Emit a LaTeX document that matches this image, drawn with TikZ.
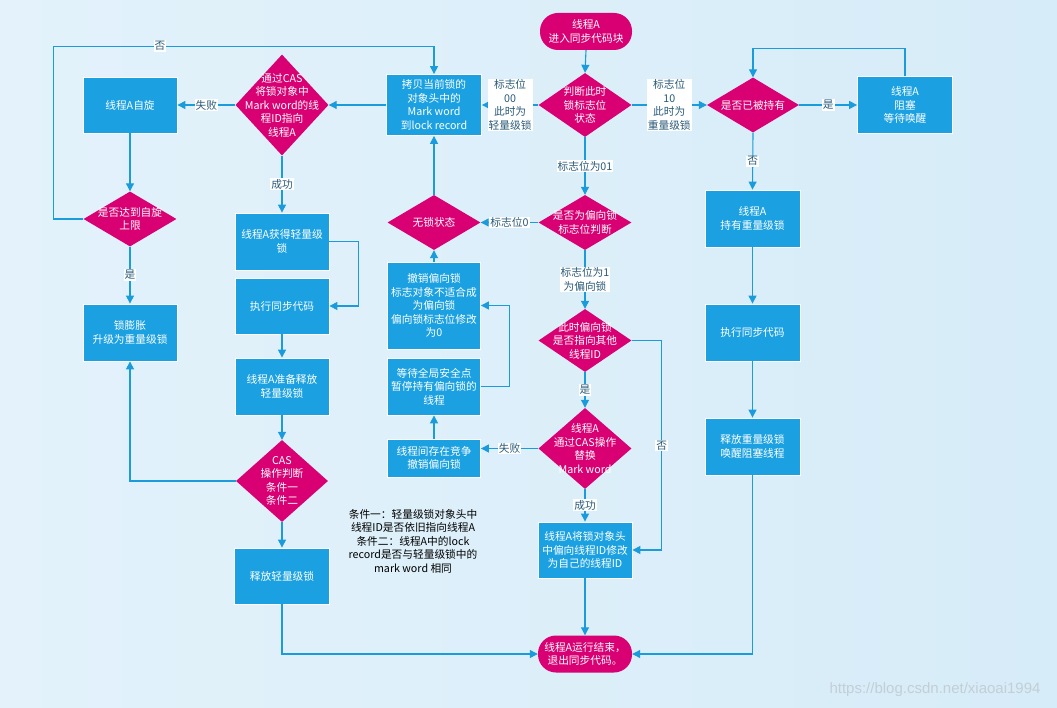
\documentclass[tikz,border=0pt]{standalone}
\usepackage{fontspec}
\setmainfont{Noto Sans CJK SC}
\newfontfamily\wmfont{Liberation Sans}
\usepackage{xcolor}
\definecolor{boxblue}{HTML}{1BA1E2}
\definecolor{decmag}{HTML}{D80073}
\definecolor{linkblue}{HTML}{1A9BDB}
\definecolor{lbltext}{HTML}{2A5A78}
\definecolor{bgleft}{HTML}{E3F2FB}
\definecolor{bgright}{HTML}{D6ECF8}
\definecolor{wmgray}{HTML}{C3CFD6}
\usepackage{tikz}
\usetikzlibrary{arrows.meta}
\usetikzlibrary{shapes.geometric}
\usetikzlibrary{calc}
\tikzset{
    box/.style={draw=white, line width=0.8pt, fill=boxblue, text=white, align=center,
      minimum width=94, minimum height=57, inner sep=1pt},
    decision/.style 2 args={diamond, fill=decmag, minimum width=#1, minimum height=#2, inner sep=0pt},
    dtext/.style={text=white, align=center},
    term/.style={rounded corners=18, fill=decmag, text=white, align=center,
      minimum width=94, minimum height=37, inner sep=1pt},
    lbl/.style={fill=white, text=lbltext, align=center, inner sep=1pt},
    flow/.style={draw=linkblue, line width=1.1pt, -{Triangle[length=8pt, width=8pt]}}
}

\begin{document}
\begin{tikzpicture}[x=1pt, y=-1pt, font=\fontsize{10.7}{13.5}\selectfont]

    \fill [left color=bgleft, right color=bgright] (0, 0) rectangle (1057, 708);
    \useasboundingbox (0, 0) rectangle (1057, 708);

    \node (start) [term, minimum width=92] at (586, 31.5) {线程A\\进入同步代码块};
    \node (state) [decision={93}{64}, label={[dtext]center:判断此时\\锁标志位\\状态}] at (585, 105) {};
    \node (copy) [box, minimum width=95, minimum height=61] at (434, 105) {拷贝当前锁的\\对象头中的\\Mark word\\到lock record};
    \node (held) [decision={92}{55}, label={[dtext]center:是否已被持有}] at (753, 105) {};
    \node (block) [box, minimum width=95] at (905, 105) {线程A\\阻塞\\等待唤醒};
    \node (heavy) [box, minimum width=95] at (752.5, 218.5) {线程A\\持有重量级锁};
    \node (hexec) [box, minimum width=95] at (752.5, 332.5) {执行同步代码};
    \node (hrel) [box, minimum width=95] at (752.5, 446.5) {释放重量级锁\\唤醒阻塞线程};
    \node (end) [term] at (585, 654) {线程A运行结束，\\退出同步代码。};

    \node (biased) [decision={93}{55}, label={[dtext]center:是否为偏向锁\\标志位判断}] at (585, 222.5) {};
    \node (nolock) [decision={93}{55}, label={[dtext]center:无锁状态}] at (434, 222.5) {};
    \node (other) [decision={93}{63}, label={[dtext]center:此时偏向锁\\是否指向其他\\线程ID}] at (585, 340.5) {};
    \node (bcas) [decision={93}{81}, label={[dtext]center:线程A\\通过CAS操作\\替换\\Mark word}] at (585, 448.5) {};
    \node (setid) [box, minimum height=56] at (585, 550) {线程A将锁对象头\\中偏向线程ID修改\\为自己的线程ID};
    \node (compete) [box, minimum width=93, minimum height=38] at (434, 458) {线程间存在竞争\\撤销偏向锁};
    \node (safept) [box, minimum width=93] at (434, 386.5) {等待全局安全点\\暂停持有偏向锁的\\线程};
    \node (revoke) [box, minimum width=93, minimum height=87] at (434, 305.5) {撤销偏向锁\\标志对象不适合成\\为偏向锁\\偏向锁标志位修改\\为0};

    \node (lcas) [decision={93}{101}, label={[dtext]center:通过CAS\\将锁对象中\\Mark word的线\\程ID指向\\线程A}] at (282, 105) {};
    \node (spin) [box, minimum height=56] at (130, 105) {线程A自旋};
    \node (limit) [decision={93}{55}, label={[dtext]center:是否达到自旋\\上限}] at (130, 219) {};
    \node (inflate) [box] at (130, 332.5) {锁膨胀\\升级为重量级锁};
    \node (light) [box] at (282, 241.5) {线程A获得轻量级\\锁};
    \node (lexec) [box, minimum height=56] at (282, 306) {执行同步代码};
    \node (lprep) [box] at (282, 386.5) {线程A准备释放\\轻量级锁};
    \node (lcheck) [decision={92}{82}, label={[dtext]center:CAS\\操作判断\\条件一\\条件二}] at (282, 481) {};
    \node (lrel) [box, minimum width=95, minimum height=56] at (282, 576) {释放轻量级锁};

    \node (note) [align=center, text=black] at (413, 541) {条件一：轻量级锁对象头中\\线程ID是否依旧指向线程A\\条件二：线程A中的lock\\record是否与轻量级锁中的\\mark word 相同};
    \node (mark) [font=\wmfont\fontsize{15}{17}\selectfont, text=wmgray] at (935, 690) {https://blog.csdn.net/xiaoai1994};

    \draw [flow] (start.south) -- (state.north);
    \draw [flow] (state.west) -- node [lbl] {标志位\\00\\此时为\\轻量级锁} (copy.east);
    \draw [flow] (state.east) -- node [lbl] {标志位\\10\\此时为\\重量级锁} (held.west);
    \draw [flow] (held.east) -- node [lbl] {是} (block.west);
    \draw [flow] (block.north) -- ++(0, -28) -| (held.north);
    \draw [flow] (held.south) -- node [lbl] {否} (heavy.north);
    \draw [flow] (heavy.south) -- (hexec.north);
    \draw [flow] (hexec.south) -- (hrel.north);
    \draw [flow] (hrel.south) |- (end.east);

    \draw [flow] (state.south) -- node [lbl] {标志位为01} (biased.north);
    \draw [flow] (biased.west) -- node [lbl] {标志位0} (nolock.east);
    \draw [flow] (nolock.north) -- (copy.south);
    \draw [flow] (biased.south) -- node [lbl] {标志位为1\\为偏向锁} (other.north);
    \draw [flow] (other.east) -- ++(30, 0) |- node [lbl, pos=0.25] {否} (setid.east);
    \draw [flow] (other.south) -- node [lbl] {是} (bcas.north);
    \draw [flow] (bcas.south) -- node [lbl] {成功} (setid.north);
    \draw [flow] (setid.south) -- (end.north);
    \draw [flow] (bcas.west) -- node [lbl] {失败} (bcas.west -| compete.east);
    \draw [flow] (compete.north) -- (safept.south);
    \draw [flow] (safept.east) -- ++(29, 0) |- (revoke.east);
    \draw [flow] (revoke.north) -- (nolock.south);

    \draw [flow] (copy.west) -- (lcas.east);
    \draw [flow] (lcas.west) -- node [lbl] {失败} (spin.east);
    \draw [flow] (lcas.south) -- node [lbl] {成功} (light.north);
    \draw [flow] (light.east) -- ++(29, 0) |- (lexec.east);
    \draw [flow] (lexec.south) -- (lprep.north);
    \draw [flow] (lprep.south) -- (lcheck.north);
    \draw [flow] (lcheck.south) -- (lrel.north);
    \draw [flow] (lrel.south) |- (end.west);
    \draw [flow] (lcheck.west) -| (inflate.south);
    \draw [flow] (spin.south) -- (limit.north);
    \draw [flow] (limit.south) -- node [lbl] {是} (inflate.north);
    \draw [flow] (limit.west) -- ++(-30, 0) |- node [lbl, pos=0.64] {否} ([yshift=28pt]copy.north) -- (copy.north);

  \end{tikzpicture}
\end{document}
